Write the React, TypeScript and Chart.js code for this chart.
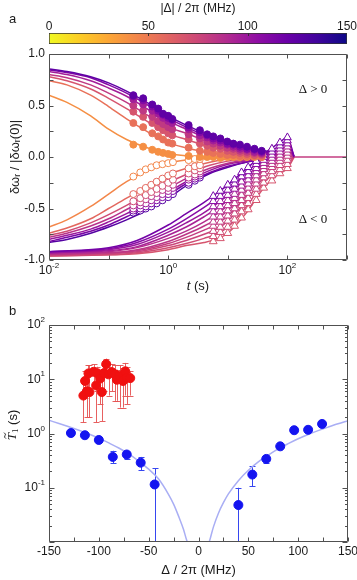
import React, { useEffect, useRef } from "react";
import { Chart, registerables } from "chart.js";
Chart.register(...registerables);

const W = 357;
const H = 580;

// ---------------- colour bar ----------------
const CB_MIN = 0;
const CB_MAX = 150;
const CB_TICKS = [0, 50, 100, 150];

// ---------------- panel a ----------------
const A_T_MIN = 0.01;
const A_T_MAX = 1000;
const A_Y_MIN = -1;
const A_Y_MAX = 1;
const A_T_TICKS = [0.01, 0.1, 1, 10, 100, 1000];
const A_T_LABEL_EXPS = [-2, 0, 2];
const A_Y_TICKS = [-1, -0.75, -0.5, -0.25, 0, 0.25, 0.5, 0.75, 1];
const A_Y_LABELS = [-1, -0.5, 0, 0.5, 1];

// fit curves, time grid (s)
const FIT_T = [0.01, 0.02, 0.05, 0.1, 0.2, 0.5, 1, 2, 5, 10, 20, 50, 100];

// Δ > 0 (filled circles)
const POS_DET = [124, 110, 96, 82, 68, 54, 40];
const POS_FIT = [
  [0.855, 0.83, 0.78, 0.72, 0.64, 0.51, 0.4, 0.31, 0.21, 0.15, 0.1, 0.05, 0.01],
  [0.845, 0.82, 0.77, 0.7, 0.62, 0.49, 0.38, 0.29, 0.19, 0.13, 0.08, 0.04, 0.01],
  [0.83, 0.8, 0.74, 0.67, 0.59, 0.45, 0.35, 0.27, 0.17, 0.12, 0.07, 0.03, 0.005],
  [0.8, 0.77, 0.7, 0.62, 0.53, 0.39, 0.29, 0.23, 0.14, 0.09, 0.05, 0.02, 0],
  [0.78, 0.74, 0.66, 0.57, 0.47, 0.33, 0.23, 0.17, 0.1, 0.06, 0.03, 0.01, 0],
  [0.74, 0.7, 0.6, 0.49, 0.37, 0.23, 0.14, 0.09, 0.04, 0.02, 0.01, 0, 0],
  [0.6, 0.53, 0.4, 0.27, 0.17, 0.08, 0.035, 0.012, 0, 0, 0, 0, 0],
];
const POS_PT_T = [0.26, 0.38, 0.54, 0.68, 0.82, 1.0, 1.17, 2.2, 3.4, 4.5, 5.7, 7.5, 9.8, 12.4, 16, 21, 28, 37];
const POS_PT = [
  [0.6, 0.57, 0.51, 0.47, 0.42, 0.4, 0.37, 0.31, 0.26, 0.22, 0.2, 0.18, 0.15, 0.13, 0.12, 0.1, 0.08, 0.06],
  [0.59, 0.55, 0.49, 0.45, 0.41, 0.38, 0.36, 0.29, 0.24, 0.21, 0.18, 0.16, 0.13, 0.12, 0.1, 0.08, 0.07, 0.05],
  [0.56, 0.51, 0.45, 0.42, 0.38, 0.35, 0.33, 0.27, 0.21, 0.19, 0.16, 0.14, 0.12, 0.1, 0.08, 0.07, 0.05, 0.04],
  [0.5, 0.45, 0.39, 0.35, 0.32, 0.29, 0.27, 0.22, 0.18, 0.15, 0.13, 0.11, 0.09, 0.08, 0.06, 0.05, 0.04, 0.03],
  [0.44, 0.39, 0.33, 0.29, 0.26, 0.23, 0.21, 0.17, 0.13, 0.11, 0.09, 0.08, 0.06, 0.05, 0.04, 0.03, 0.02, 0.02],
  [0.33, 0.29, 0.23, 0.2, 0.17, 0.14, 0.13, 0.09, 0.06, 0.05, 0.04, 0.03, 0.02, 0.02, 0.01, 0.01, 0.01, 0],
  [0.12, 0.1, 0.07, 0.05, 0.04, 0.03, 0.02, 0.01, 0, 0, 0, -0.01, 0, 0, 0, 0, 0, 0],
];

// Δ < 0, fast decay (open circles)
const NEG_DET = [44, 58, 72, 86, 100, 114, 128];
const NEG_FIT = [
  [-0.68, -0.61, -0.48, -0.36, -0.24, -0.12, -0.06, -0.03, -0.01, 0, 0, 0, 0],
  [-0.74, -0.69, -0.6, -0.5, -0.4, -0.26, -0.17, -0.11, -0.05, -0.02, -0.01, 0, 0],
  [-0.76, -0.72, -0.64, -0.56, -0.47, -0.34, -0.25, -0.17, -0.08, -0.04, -0.02, 0, 0],
  [-0.78, -0.74, -0.67, -0.6, -0.51, -0.39, -0.3, -0.21, -0.11, -0.06, -0.03, -0.01, 0],
  [-0.8, -0.76, -0.7, -0.63, -0.55, -0.43, -0.34, -0.24, -0.13, -0.07, -0.04, -0.01, 0],
  [-0.82, -0.78, -0.72, -0.66, -0.58, -0.47, -0.37, -0.26, -0.15, -0.09, -0.05, -0.02, 0],
  [-0.83, -0.8, -0.74, -0.68, -0.61, -0.5, -0.4, -0.28, -0.16, -0.1, -0.05, -0.02, 0],
];
const NEG_PT_T = [0.26, 0.34, 0.42, 0.52, 0.64, 0.8, 1.0, 1.2, 2.2, 2.8, 3.4];
const NEG_PT = [
  [-0.19, -0.15, -0.12, -0.1, -0.08, -0.07, -0.06, -0.05, -0.03, -0.02, -0.02],
  [-0.36, -0.33, -0.3, -0.27, -0.24, -0.21, -0.18, -0.16, -0.11, -0.09, -0.08],
  [-0.43, -0.4, -0.37, -0.34, -0.31, -0.28, -0.25, -0.22, -0.16, -0.13, -0.11],
  [-0.47, -0.44, -0.41, -0.38, -0.35, -0.32, -0.3, -0.27, -0.2, -0.17, -0.14],
  [-0.5, -0.47, -0.45, -0.42, -0.39, -0.36, -0.33, -0.3, -0.22, -0.19, -0.16],
  [-0.52, -0.5, -0.48, -0.45, -0.42, -0.39, -0.36, -0.33, -0.25, -0.21, -0.18],
  [-0.54, -0.52, -0.5, -0.48, -0.45, -0.42, -0.39, -0.36, -0.27, -0.23, -0.2],
];

// Δ < 0, slow decay (triangles)
const TRI_DET = [116, 108, 100, 94, 88, 84, 80, 76, 72, 68];
const TRI_T = [0.01, 0.1, 0.3, 1, 2, 4, 7, 10, 20, 40, 70, 100, 130];
const TRI_FIT = [
  [-0.92, -0.88, -0.81, -0.66, -0.55, -0.44, -0.34, -0.27, -0.12, 0.03, 0.13, 0.19, 0],
  [-0.92, -0.89, -0.83, -0.7, -0.6, -0.49, -0.39, -0.32, -0.16, 0.0, 0.1, 0.16, 0],
  [-0.93, -0.9, -0.85, -0.73, -0.64, -0.54, -0.44, -0.37, -0.2, -0.03, 0.07, 0.13, 0],
  [-0.93, -0.91, -0.87, -0.76, -0.68, -0.58, -0.49, -0.42, -0.24, -0.06, 0.04, 0.1, 0],
  [-0.94, -0.92, -0.88, -0.79, -0.72, -0.63, -0.54, -0.47, -0.28, -0.09, 0.01, 0.07, 0],
  [-0.94, -0.93, -0.9, -0.82, -0.75, -0.67, -0.59, -0.52, -0.33, -0.12, -0.02, 0.04, 0],
  [-0.95, -0.93, -0.91, -0.84, -0.78, -0.71, -0.64, -0.57, -0.38, -0.16, -0.05, 0.01, 0],
  [-0.95, -0.94, -0.92, -0.86, -0.81, -0.75, -0.69, -0.62, -0.43, -0.2, -0.09, -0.03, 0],
  [-0.96, -0.95, -0.93, -0.88, -0.84, -0.79, -0.74, -0.68, -0.49, -0.25, -0.13, -0.07, 0],
  [-0.96, -0.95, -0.94, -0.9, -0.86, -0.83, -0.79, -0.74, -0.55, -0.3, -0.17, -0.11, 0],
];
const TRI_PT_T = [5.7, 7.5, 10, 13, 17, 22, 30, 40, 55, 75, 100];
const TRI_PT = [
  [-0.38, -0.33, -0.27, -0.22, -0.15, -0.1, -0.04, 0.03, 0.08, 0.14, 0.19],
  [-0.43, -0.38, -0.32, -0.26, -0.19, -0.14, -0.07, 0.0, 0.05, 0.11, 0.16],
  [-0.48, -0.43, -0.37, -0.31, -0.24, -0.18, -0.11, -0.03, 0.02, 0.08, 0.13],
  [-0.53, -0.48, -0.42, -0.36, -0.28, -0.22, -0.14, -0.06, -0.01, 0.05, 0.1],
  [-0.58, -0.53, -0.47, -0.4, -0.32, -0.26, -0.18, -0.09, -0.04, 0.02, 0.07],
  [-0.63, -0.58, -0.52, -0.45, -0.37, -0.3, -0.22, -0.12, -0.07, -0.01, 0.04],
  [-0.67, -0.63, -0.57, -0.5, -0.42, -0.35, -0.26, -0.16, -0.1, -0.04, 0.01],
  [-0.72, -0.68, -0.62, -0.55, -0.47, -0.4, -0.31, -0.2, -0.14, -0.08, -0.03],
  [-0.77, -0.73, -0.68, -0.61, -0.53, -0.45, -0.36, -0.25, -0.18, -0.12, -0.07],
  [-0.82, -0.79, -0.74, -0.67, -0.59, -0.51, -0.42, -0.3, -0.23, -0.16, -0.11],
];
// long-time baseline
const ZERO_T = [130, 1000];
const ZERO_Y = [0, 0];
const ZERO_DET = 80;

// ---------------- panel b ----------------
const B_X_MIN = -150;
const B_X_MAX = 150;
const B_Y_MIN = 0.01;
const B_Y_MAX = 100;
const B_X_TICKS = [-150, -125, -100, -75, -50, -25, 0, 25, 50, 75, 100, 125, 150];
const B_X_LABELS = [-150, -100, -50, 0, 50, 100, 150];
const B_Y_DECADES = [-2, -1, 0, 1, 2];
const B_Y_LABEL_EXPS = [-1, 0, 1, 2];

const BLUE_X = [-128, -114, -100, -86, -72, -58, -44, 40, 54, 68, 82, 96, 110, 124];
const BLUE_Y = [1.02, 0.93, 0.76, 0.37, 0.41, 0.29, 0.115, 0.048, 0.175, 0.34, 0.58, 1.15, 1.17, 1.5];
const BLUE_LO = [0.95, 0.87, 0.71, 0.28, 0.34, 0.21, 0.001, 0.001, 0.107, 0.29, 0.53, 1.08, 1.1, 1.4];
const BLUE_HI = [1.09, 0.99, 0.81, 0.48, 0.46, 0.37, 0.23, 0.1, 0.25, 0.4, 0.63, 1.22, 1.24, 1.6];

const RED_X = [-115.5, -113.8, -112, -109.4, -110.4, -105.3, -102.7, -101.4, -98.7, -97, -94.7, -92.6, -90.3, -86.9, -83.6, -81.9, -79.2, -75.8, -73.5, -71.8, -68.5];
const RED_Y = [5.0, 9.3, 6.0, 5.8, 12.8, 13.7, 7.7, 12.9, 10.3, 5.8, 13, 19, 12.3, 13.5, 12.3, 9.8, 11.6, 9.3, 14, 10.7, 10.5];
const RED_LO = [1.6, 4.5, 2.0, 2.0, 6, 7, 1.6, 6, 3.5, 1.7, 6, 12, 5, 6, 4, 4, 3, 3, 5, 3.5, 5];
const RED_HI = [9.5, 14, 12, 18, 18, 19, 14, 17, 15, 11, 18, 24, 17, 19, 18, 15, 18, 16, 20, 17, 14];

const FIT_L_X = [-150, -140, -130, -120, -110, -100, -90, -80, -70, -60, -50, -40, -30, -25, -20, -15, -12, -10];
const FIT_L_Y = [1.75, 1.53, 1.33, 1.15, 0.98, 0.82, 0.67, 0.54, 0.42, 0.31, 0.22, 0.145, 0.075, 0.05, 0.03, 0.017, 0.011, 0.009];
const FIT_R_X = [10, 12, 15, 20, 25, 30, 40, 50, 60, 70, 80, 90, 100, 110, 120, 130, 140, 150];
const FIT_R_Y = [0.009, 0.012, 0.019, 0.034, 0.053, 0.077, 0.135, 0.21, 0.3, 0.4, 0.52, 0.65, 0.8, 0.96, 1.13, 1.31, 1.51, 1.72];

// ---------------- styling ----------------
const SANS = '"Liberation Sans", Arial, Helvetica, sans-serif';
const SERIF = '"Liberation Serif", "Times New Roman", serif';
const AXIS = "#505050";
const TEXT = "#1a1a1a";
const PLASMA = ["#0d0887", "#41049d", "#6a00a8", "#8f0da4", "#b12a90", "#cc4778", "#e16462", "#f2844b", "#fca636", "#fcce25", "#f0f921"];

function hexToRgb(h: string) {
  return [parseInt(h.slice(1, 3), 16), parseInt(h.slice(3, 5), 16), parseInt(h.slice(5, 7), 16)];
}
function plasma(v: number) {
  const c = Math.max(0, Math.min(1, v)) * (PLASMA.length - 1);
  const i = Math.min(PLASMA.length - 2, Math.floor(c));
  const f = c - i;
  const a = hexToRgb(PLASMA[i]);
  const b = hexToRgb(PLASMA[i + 1]);
  const m = a.map((x, k) => Math.round(x + (b[k] - x) * f));
  return `rgb(${m[0]},${m[1]},${m[2]})`;
}
const detColor = (d: number) => plasma(1 - Math.abs(d) / CB_MAX);

type Part = { t: string; font: string; dy?: number };
function drawParts(ctx: CanvasRenderingContext2D, parts: Part[], x: number, y: number, align: "left" | "center" | "right") {
  let total = 0;
  const ws = parts.map((p) => {
    ctx.font = p.font;
    const w = ctx.measureText(p.t).width;
    total += w;
    return w;
  });
  let cx = align === "left" ? x : align === "center" ? x - total / 2 : x - total;
  ctx.textAlign = "left";
  ctx.textBaseline = "middle";
  parts.forEach((p, i) => {
    ctx.font = p.font;
    ctx.fillText(p.t, cx, y + (p.dy || 0));
    cx += ws[i];
  });
  return total;
}
const pow10 = (e: number): Part[] => [
  { t: "10", font: `12px ${SANS}` },
  { t: String(e), font: `8px ${SANS}`, dy: -5 },
];

const zip = (xs: number[], ys: number[]) => xs.map((x, i) => ({ x, y: ys[i] }));

const baseOptions = (padding: any) => ({
  responsive: false,
  animation: false as const,
  devicePixelRatio: 1,
  events: [] as any[],
  layout: { padding },
  plugins: { legend: { display: false }, tooltip: { enabled: false } },
});

function makeColorbar(canvas: HTMLCanvasElement) {
  const plugin = {
    id: "cbDecor",
    afterDraw(chart: any) {
      const { ctx, chartArea: a, scales } = chart;
      const xs = scales.x;
      ctx.save();
      ctx.fillStyle = TEXT;
      ctx.font = `13px ${SANS}`;
      ctx.textAlign = "left";
      ctx.textBaseline = "middle";
      ctx.fillText("a", 9, 19);
      drawParts(ctx, [{ t: "|Δ| / 2π (MHz)", font: `12px ${SANS}` }], (a.left + a.right) / 2, 9, "center");
      CB_TICKS.forEach((v) => {
        drawParts(ctx, [{ t: String(v), font: `12px ${SANS}` }], xs.getPixelForValue(v), 27, "center");
      });
      ctx.strokeStyle = "#333";
      ctx.lineWidth = 1;
      ctx.beginPath();
      [50, 100].forEach((v) => {
        const px = Math.round(xs.getPixelForValue(v)) + 0.5;
        ctx.moveTo(px, a.top);
        ctx.lineTo(px, a.top + 3);
      });
      ctx.stroke();
      ctx.restore();
    },
  };
  return new Chart(canvas, {
    type: "bar",
    data: {
      labels: [""],
      datasets: [
        {
          data: [[CB_MIN, CB_MAX]] as any,
          backgroundColor: (c: any) => {
            const a = c.chart.chartArea;
            if (!a) return PLASMA[5];
            const g = c.chart.ctx.createLinearGradient(a.left, 0, a.right, 0);
            PLASMA.forEach((col, i) => g.addColorStop(i / (PLASMA.length - 1), PLASMA[PLASMA.length - 1 - i]));
            return g;
          },
          borderColor: "#333",
          borderWidth: 1,
          borderSkipped: false,
          barPercentage: 1,
          categoryPercentage: 1,
        } as any,
      ],
    },
    options: {
      ...baseOptions({ left: 49, right: W - 347, top: 33, bottom: H - 44 }),
      indexAxis: "y",
      scales: {
        x: { type: "linear", min: CB_MIN, max: CB_MAX, display: false },
        y: { display: false },
      },
    } as any,
    plugins: [plugin],
  });
}

function makePanelA(canvas: HTMLCanvasElement) {
  const datasets: any[] = [];
  const line = (ts: number[], ys: number[], col: string, order = 10) => ({
    data: zip(ts, ys),
    borderColor: col,
    borderWidth: 1.5,
    pointRadius: 0,
    tension: 0.4,
    cubicInterpolationMode: "monotone",
    fill: false,
    order,
  });
  const pts = (ts: number[], ys: number[], col: string, style: string, fillCol: string, r: number, order: number) => ({
    data: zip(ts, ys),
    showLine: false,
    pointStyle: style,
    pointRadius: r,
    pointBackgroundColor: fillCol,
    pointBorderColor: col,
    pointBorderWidth: 1,
    order,
  });
  datasets.push(line(ZERO_T, ZERO_Y, detColor(ZERO_DET), 4));
  TRI_DET.forEach((d, i) => {
    const c = detColor(d);
    datasets.push(line(TRI_T, TRI_FIT[i], c));
    datasets.push(pts(TRI_PT_T, TRI_PT[i], c, "triangle", "#ffffff", 4.5, 3));
  });
  NEG_DET.forEach((d, i) => {
    const c = detColor(d);
    datasets.push(line(FIT_T, NEG_FIT[i], c));
    datasets.push(pts(NEG_PT_T, NEG_PT[i], c, "circle", "#ffffff", 3.5, 2));
  });
  POS_DET.forEach((d, i) => {
    const c = detColor(d);
    datasets.push(line(FIT_T, POS_FIT[i], c));
    datasets.push(pts(POS_PT_T, POS_PT[i], c, "circle", c, 3.5, 1));
  });

  const plugin = {
    id: "aDecor",
    afterDraw(chart: any) {
      const { ctx, chartArea: a, scales } = chart;
      const xs = scales.x;
      const ys = scales.y;
      const L = a.left + 0.5, R = a.right - 0.5, T = a.top + 0.5, B = a.bottom - 0.5;
      ctx.save();
      ctx.strokeStyle = AXIS;
      ctx.lineWidth = 1;
      ctx.beginPath();
      ctx.rect(L, T, R - L, B - T);
      A_T_TICKS.forEach((t) => {
        const px = Math.round(xs.getPixelForValue(t)) + 0.5;
        ctx.moveTo(px, T); ctx.lineTo(px, T + 4);
        ctx.moveTo(px, B); ctx.lineTo(px, B - 4);
      });
      A_Y_TICKS.forEach((v) => {
        const py = Math.round(ys.getPixelForValue(v)) + 0.5;
        ctx.moveTo(L, py); ctx.lineTo(L + 4, py);
        ctx.moveTo(R, py); ctx.lineTo(R - 4, py);
      });
      ctx.stroke();
      ctx.fillStyle = TEXT;
      A_Y_LABELS.forEach((v) => {
        drawParts(ctx, [{ t: v.toFixed(1), font: `12px ${SANS}` }], a.left - 4, ys.getPixelForValue(v), "right");
      });
      A_T_LABEL_EXPS.forEach((e) => {
        drawParts(ctx, pow10(e), xs.getPixelForValue(Math.pow(10, e)), a.bottom + 11, "center");
      });
      drawParts(ctx, [{ t: "t", font: `italic 13px ${SANS}` }, { t: " (s)", font: `13px ${SANS}` }], (a.left + a.right) / 2, a.bottom + 26, "center");
      // y title
      ctx.save();
      ctx.translate(15, (a.top + a.bottom) / 2);
      ctx.rotate(-Math.PI / 2);
      drawParts(ctx, [
        { t: "δω", font: `13px ${SANS}` },
        { t: "r", font: `9px ${SANS}`, dy: 3 },
        { t: " / |δω", font: `13px ${SANS}` },
        { t: "r", font: `9px ${SANS}`, dy: 3 },
        { t: "(0)|", font: `13px ${SANS}` },
      ], 0, 0, "center");
      ctx.restore();
      ctx.fillStyle = "#111";
      drawParts(ctx, [{ t: "Δ > 0", font: `13px ${SERIF}` }], 313, 90, "center");
      drawParts(ctx, [{ t: "Δ < 0", font: `13px ${SERIF}` }], 313, 220, "center");
      ctx.restore();
    },
  };

  return new Chart(canvas, {
    type: "line",
    data: { datasets },
    options: {
      ...baseOptions({ left: 49, right: W - 347, top: 54, bottom: H - 260 }),
      scales: {
        x: { type: "logarithmic", min: A_T_MIN, max: A_T_MAX, display: false },
        y: { type: "linear", min: A_Y_MIN, max: A_Y_MAX, display: false },
      },
    } as any,
    plugins: [plugin],
  });
}

function makePanelB(canvas: HTMLCanvasElement) {
  const errPlugin = {
    id: "bErr",
    beforeDatasetsDraw(chart: any) {
      const { ctx, chartArea: a, scales } = chart;
      const xs = scales.x;
      const ys = scales.y;
      ctx.save();
      ctx.beginPath();
      ctx.rect(a.left, a.top, a.right - a.left, a.bottom - a.top);
      ctx.clip();
      const draw = (X: number[], LO: number[], HI: number[], col: string) => {
        ctx.strokeStyle = col;
        ctx.lineWidth = 1;
        ctx.beginPath();
        X.forEach((x, i) => {
          const px = Math.round(xs.getPixelForValue(x)) + 0.5;
          const y1 = Math.min(ys.getPixelForValue(LO[i]), a.bottom + 2);
          const y2 = ys.getPixelForValue(HI[i]);
          ctx.moveTo(px, y1); ctx.lineTo(px, y2);
          ctx.moveTo(px - 3, Math.round(y2) + 0.5); ctx.lineTo(px + 3, Math.round(y2) + 0.5);
          if (y1 < a.bottom) { ctx.moveTo(px - 3, Math.round(y1) + 0.5); ctx.lineTo(px + 3, Math.round(y1) + 0.5); }
        });
        ctx.stroke();
      };
      draw(RED_X, RED_LO, RED_HI, "rgba(228,80,80,0.9)");
      draw(BLUE_X, BLUE_LO, BLUE_HI, "#3646f0");
      ctx.restore();
    },
    afterDraw(chart: any) {
      const { ctx, chartArea: a, scales } = chart;
      const xs = scales.x;
      const ys = scales.y;
      const L = a.left + 0.5, R = a.right - 0.5, T = a.top + 0.5, B = a.bottom - 0.5;
      ctx.save();
      ctx.strokeStyle = AXIS;
      ctx.lineWidth = 1;
      ctx.beginPath();
      ctx.rect(L, T, R - L, B - T);
      B_X_TICKS.forEach((v) => {
        const px = Math.round(xs.getPixelForValue(v)) + 0.5;
        ctx.moveTo(px, T); ctx.lineTo(px, T + 4);
        ctx.moveTo(px, B); ctx.lineTo(px, B - 4);
      });
      B_Y_DECADES.forEach((e) => {
        for (let m = 1; m <= 9; m++) {
          const v = m * Math.pow(10, e);
          if (v > B_Y_MAX * 1.0001) break;
          const len = m === 1 ? 5 : 2.5;
          const py = Math.round(ys.getPixelForValue(v)) + 0.5;
          ctx.moveTo(L, py); ctx.lineTo(L + len, py);
          ctx.moveTo(R, py); ctx.lineTo(R - len, py);
        }
      });
      ctx.stroke();
      ctx.fillStyle = TEXT;
      B_X_LABELS.forEach((v) => {
        drawParts(ctx, [{ t: String(v), font: `12px ${SANS}` }], xs.getPixelForValue(v), a.bottom + 10, "center");
      });
      B_Y_LABEL_EXPS.forEach((e) => {
        drawParts(ctx, pow10(e), a.left - 4, ys.getPixelForValue(Math.pow(10, e)), "right");
      });
      drawParts(ctx, [{ t: "Δ / 2π (MHz)", font: `13px ${SANS}` }], (a.left + a.right) / 2, a.bottom + 28, "center");
      ctx.font = `13px ${SANS}`;
      ctx.textAlign = "left";
      ctx.textBaseline = "middle";
      ctx.fillText("b", 9, 311);
      // y title: T~1 (s)
      ctx.save();
      ctx.translate(13, 425);
      ctx.rotate(-Math.PI / 2);
      const parts: Part[] = [
        { t: "T", font: `italic 13px ${SERIF}` },
        { t: "1", font: `9px ${SERIF}`, dy: 3 },
        { t: " (s)", font: `13px ${SANS}` },
      ];
      let total = 0;
      const ws = parts.map((p) => { ctx.font = p.font; const w = ctx.measureText(p.t).width; total += w; return w; });
      const x0 = -total / 2;
      drawParts(ctx, parts, 0, 0, "center");
      ctx.strokeStyle = TEXT;
      ctx.lineWidth = 0.9;
      ctx.beginPath();
      const tx = x0 + ws[0] / 2 + 1;
      ctx.moveTo(tx - 3, -7);
      ctx.quadraticCurveTo(tx - 1.5, -9.5, tx, -8);
      ctx.quadraticCurveTo(tx + 1.5, -6.5, tx + 3, -9);
      ctx.stroke();
      ctx.restore();
      ctx.restore();
    },
  };

  return new Chart(canvas, {
    type: "scatter",
    data: {
      datasets: [
        { data: zip(RED_X, RED_Y), pointRadius: 4.5, pointBackgroundColor: "#f01010", pointBorderColor: "#f01010", order: 1 },
        { data: zip(BLUE_X, BLUE_Y), pointRadius: 4.5, pointBackgroundColor: "#1414f0", pointBorderColor: "#1414f0", order: 1 },
        { data: zip(FIT_L_X, FIT_L_Y), showLine: true, pointRadius: 0, borderColor: "#a9aef4", borderWidth: 1.5, tension: 0.4, cubicInterpolationMode: "monotone", order: 5 },
        { data: zip(FIT_R_X, FIT_R_Y), showLine: true, pointRadius: 0, borderColor: "#a9aef4", borderWidth: 1.5, tension: 0.4, cubicInterpolationMode: "monotone", order: 5 },
      ] as any,
    },
    options: {
      ...baseOptions({ left: 49, right: W - 348, top: 325, bottom: H - 542 }),
      scales: {
        x: { type: "linear", min: B_X_MIN, max: B_X_MAX, display: false },
        y: { type: "logarithmic", min: B_Y_MIN, max: B_Y_MAX, display: false },
      },
    } as any,
    plugins: [errPlugin],
  });
}

export default function App() {
  const cbRef = useRef<HTMLCanvasElement>(null);
  const aRef = useRef<HTMLCanvasElement>(null);
  const bRef = useRef<HTMLCanvasElement>(null);
  useEffect(() => {
    document.body.style.margin = "0";
    const charts = [makeColorbar(cbRef.current!), makePanelA(aRef.current!), makePanelB(bRef.current!)];
    return () => charts.forEach((c) => c.destroy());
  }, []);
  const st: React.CSSProperties = { position: "absolute", left: 0, top: 0, width: W, height: H };
  return (
    <div style={{ position: "relative", width: W, height: H, background: "#ffffff" }}>
      <canvas ref={cbRef} width={W} height={H} style={st} />
      <canvas ref={aRef} width={W} height={H} style={st} />
      <canvas ref={bRef} width={W} height={H} style={st} />
    </div>
  );
}
